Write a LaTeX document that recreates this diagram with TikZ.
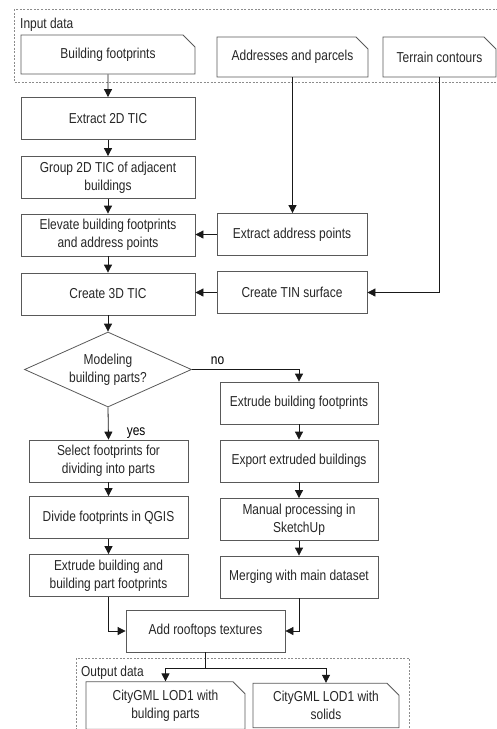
\documentclass[tikz,border=0pt]{standalone}
\usepackage{fontspec}
\setmainfont{Liberation Sans}[FakeStretch=0.83]
\usetikzlibrary{shapes.geometric}
\usetikzlibrary{shapes.misc}
\usetikzlibrary{calc}
\usetikzlibrary{arrows.meta}

\begin{document}
\begin{tikzpicture}[x=1pt,y=-1pt,
  font=\fontsize{14.4}{18}\selectfont,
  >={Triangle[length=8pt,width=8pt]},
  proc/.style={draw=black!65,line width=0.8pt,minimum width=#1,minimum height=42pt,
    inner sep=1pt,align=center,text=black!85},
  iobox/.style={chamfered rectangle,chamfered rectangle corners=north east,
    chamfered rectangle xsep=5pt,chamfered rectangle ysep=7pt,
    draw=black!65,line width=0.8pt,minimum width=#1,minimum height=40pt,
    inner sep=1pt,align=center,text=black!85},
  decide/.style={diamond,draw=black!65,line width=0.8pt,aspect=2.2,
    minimum width=167pt,minimum height=75pt,inner sep=0pt,align=center,text=black!85},
  dashframe/.style={draw=black!45,line width=0.6pt,dash pattern=on 2pt off 1.5pt},
  flow/.style={->,draw=black!90,line width=0.8pt}]
  \useasboundingbox (0,0) rectangle (497,729);

  % input data
  \draw [dashframe] (14,9) rectangle (505,82);
  \node [anchor=west,inner sep=0pt,text=black!85] (inlbl) at (20,25) {Input data};
  \node [iobox=174pt,minimum height=39pt] (bf) at (108,54.5) {Building footprints};
  \node [iobox=151pt] (addr) at (292.5,57) {Addresses and parcels};
  \node [iobox=113pt] (terr) at (439.5,57) {Terrain contours};

  % processing
  \node [proc=174pt] (ext2d) at (108,118.5) {Extract 2D TIC};
  \node [proc=174pt] (grp) at (108,177.5) {Group 2D TIC of adjacent\\buildings};
  \node [proc=174pt] (elev) at (108,235) {Elevate building footprints\\and address points};
  \node [proc=150pt] (extaddr) at (292,234.5) {Extract address points};
  \node [proc=174pt] (c3d) at (108,294) {Create 3D TIC};
  \node [proc=150pt] (tin) at (292,292.5) {Create TIN surface};
  \node [decide] (model) at (108,369.5) {Modeling\\building parts?};

  \node [proc=158pt] (extr) at (299,403) {Extrude building footprints};
  \node [proc=158pt] (expo) at (299,461) {Export extruded buildings};
  \node [proc=158pt] (manu) at (299,519.5) {Manual processing in\\SketchUp};
  \node [proc=158pt] (merg) at (299,577) {Merging with main dataset};

  \node [proc=159pt] (sel) at (108.5,461) {Select footprints for\\dividing into parts};
  \node [proc=159pt] (divi) at (108.5,517.5) {Divide footprints in QGIS};
  \node [proc=159pt] (extp) at (108.5,575.5) {Extrude building and\\building part footprints};
  \node [proc=159pt] (roof) at (205.5,631) {Add rooftops textures};

  % output data
  \draw [dashframe] (76,658) rectangle (409,745);
  \node [anchor=west,inner sep=0pt,text=black!85] (outlbl) at (81,673) {Output data};
  \node [iobox=159pt,minimum height=43pt] (out1) at (165.5,705.5) {CityGML LOD1 with\\bulding parts};
  \node [iobox=146pt,minimum height=43pt] (out2) at (326,705.5) {CityGML LOD1 with\\solids};

  \draw [flow] (bf) -- (ext2d);
  \draw [flow] (ext2d) -- (grp);
  \draw [flow] (grp) -- (elev);
  \draw [flow] (elev) -- (c3d);
  \draw [flow] (addr.south) -- (addr.south |- extaddr.north);
  \draw [flow] (extaddr.west) -- (extaddr.west -| elev.east);
  \draw [flow] (terr.south) |- (tin.east);
  \draw [flow] (tin.west) -- (tin.west -| c3d.east);
  \draw [flow] (c3d) -- (model);
  \draw [flow] (model.east) -| node [pos=0.12,above=1pt] {no} (extr.north);
  \draw [flow] (model.south) -- node [pos=0.8,right=18pt,inner sep=0pt] {yes} (sel.north);
  \draw [flow] (extr) -- (expo);
  \draw [flow] (expo) -- (manu);
  \draw [flow] (manu) -- (merg);
  \draw [flow] (sel) -- (divi);
  \draw [flow] (divi) -- (extp);
  \draw [flow] (extp.south) |- (roof.west);
  \draw [flow] (merg.south) |- (roof.east);
  \coordinate (fork) at ($ (roof.south)+(0,16) $);
  \draw [flow,-] (roof.south) -- (fork);
  \draw [flow] (fork) -| (out1.north);
  \draw [flow] (fork) -| (out2.north);
\end{tikzpicture}
\end{document}
